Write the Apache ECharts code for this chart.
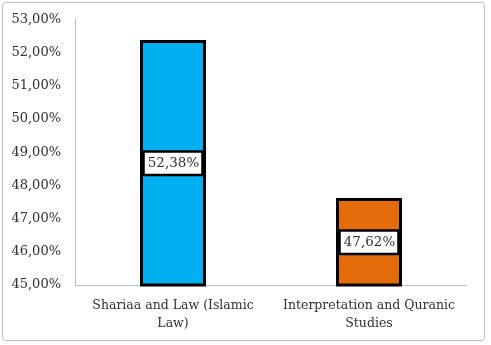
<!DOCTYPE html>
<html><head><meta charset="utf-8">
<script src="https://cdn.jsdelivr.net/npm/echarts@6/dist/echarts.min.js"></script>
<style>html,body{margin:0;padding:0;background:#fff}#c{width:491px;height:345px}</style>
</head><body><div id="c"></div>
<script>
const categories = ["Shariaa and Law (Islamic\nLaw)", "Interpretation and Quranic\nStudies"];
const values = [52.38, 47.62];
const colors = ["#00B0F0", "#E46C0A"];
const yMin = 45, yMax = 53, yInterval = 1;

const fmt = v => v.toFixed(2).replace('.', ',') + '%';
const font = '"DejaVu Serif", serif';
const chart = echarts.init(document.getElementById('c'));
chart.setOption({
  animation: false,
  graphic: [{type:'rect', shape:{x:2.5,y:2.5,width:482,height:338,r:3}, style:{fill:'none', stroke:'#BFBFBF', lineWidth:1}}],
  grid: {left: 75, right: 24, top: 19.5, bottom: 60},
  xAxis: {type:'category', data: categories,
    axisLine:{lineStyle:{color:'#BFBFBF'}}, axisTick:{show:false},
    axisLabel:{interval:0, color:'#303030', fontFamily:font, fontSize:12.5, lineHeight:18, margin:12}},
  yAxis: {type:'value', min:yMin, max:yMax, interval:yInterval,
    axisLine:{show:true, lineStyle:{color:'#BFBFBF'}}, axisTick:{show:false}, splitLine:{show:false},
    axisLabel:{color:'#303030', fontFamily:font, fontSize:13, margin:14, formatter: fmt}},
  series: [{type:'bar', barWidth:66,
    data: values.map((v,i)=>({value:v, itemStyle:{color:colors[i]}})),
    itemStyle:{borderColor:'#000', borderWidth:3},
    label:{show:true, position:'inside', formatter: p => fmt(p.value), color:'#303030', fontFamily:font, fontSize:13.5,
      backgroundColor:'#fff', borderColor:'#000', borderWidth:2.5, padding:[4,2,3,3]}}]
});
</script></body></html>
